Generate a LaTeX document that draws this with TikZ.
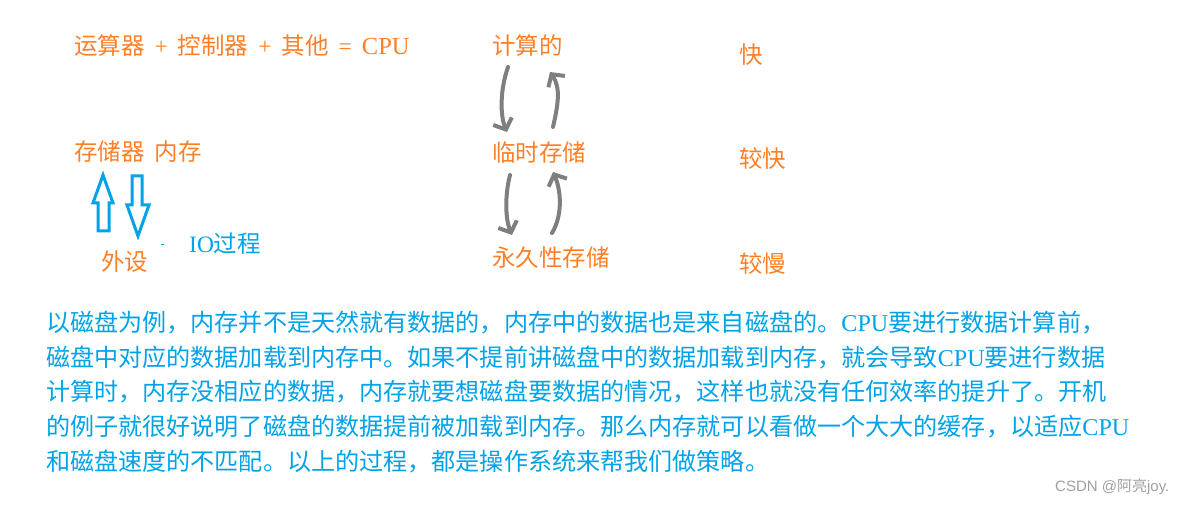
\documentclass[tikz,border=0pt]{standalone}
\usepackage{fontspec}
\setmainfont{Noto Sans CJK SC}
\newfontfamily\lat{Liberation Serif}
\newfontfamily\wmlat{Liberation Sans}
\usetikzlibrary{arrows.meta,calc}
\definecolor{myorange}{RGB}{255,127,39}
\definecolor{myblue}{RGB}{0,162,232}
\definecolor{mygray}{RGB}{127,127,127}
\definecolor{wmgray}{RGB}{160,160,160}
\newcommand{\opsym}[1]{\hspace{10pt}{\lat #1}\hspace{10pt}}
\tikzset{
  lab/.style={anchor=west,inner sep=0pt,text=myorange,font=\fontsize{23.5}{28}\selectfont},
  bodyline/.style={anchor=west,inner sep=0pt,text=myblue,font=\fontsize{24.1}{30}\selectfont},
  grayarrow/.style={draw=mygray,line width=4pt,line cap=round,
    -{Straight Barb[length=9pt,width=20pt,line width=4pt]}},
  bluearrow/.style={draw=myblue,line width=3pt,line join=miter},
}
\begin{document}
\begin{tikzpicture}[x=1pt,y=-1pt]
\useasboundingbox (0,0) rectangle (1187,505);
% left column
\node[lab] (cpu) at (74,46) {运算器\opsym{+}控制器\opsym{+}其他\opsym{=}{\lat\fontsize{24.5}{28}\selectfont CPU}};
\node[lab] (mem) at (74,152) {存储器\hspace{10pt}内存};
\node[lab] (dev) at (101,262) {外设};
\node[lab,text=myblue] (io) at (189,244) {{\lat IO}过程};
% hollow block arrows
\draw[bluearrow] (98,231) -- (98,203) -- (93,203) -- (103,175) -- (113,203) -- (109,203) -- (109,231) -- cycle;
\draw[bluearrow] (132,176) -- (142,176) -- (142,205) -- (149,205) -- (138,236) -- (127,205) -- (132,205) -- cycle;
\draw[myblue,line width=1pt] (161,245) -- (164,245);
% middle column
\node[lab] (calc) at (492,46) {计算的};
\node[lab] (tmp) at (492,153) {临时存储};
\node[lab] (perm) at (492,258) {永久性存储};
\draw[grayarrow] ($(calc.west)+(16,21)$) .. controls (500,90) and (500,115) .. ($(tmp.west)+(15,-21)$);
\draw[grayarrow] ($(tmp.west)+(61,-26)$) .. controls (558,105) and (561,88) .. ($(calc.west)+(58,26)$);
\draw[grayarrow] ($(tmp.west)+(18,22)$) .. controls (505,195) and (505,218) .. ($(perm.west)+(20,-23)$);
\draw[grayarrow] ($(perm.west)+(60,-25)$) .. controls (563,215) and (561,190) .. ($(tmp.west)+(61,19)$);
% right column
\node[lab] (fast) at (739,55) {快};
\node[lab] (fast2) at (739,159) {较快};
\node[lab] (slow) at (739,264) {较慢};
% body text
\node[bodyline] (l1) at (46,323) {以磁盘为例，内存并不是天然就有数据的，内存中的数据也是来自磁盘的。{\lat CPU}要进行数据计算前，};
\node[bodyline] (l2) at (46,358) {磁盘中对应的数据加载到内存中。如果不提前讲磁盘中的数据加载到内存，就会导致{\lat CPU}要进行数据};
\node[bodyline] (l3) at (46,392) {计算时，内存没相应的数据，内存就要想磁盘要数据的情况，这样也就没有任何效率的提升了。开机};
\node[bodyline] (l4) at (46,427) {的例子就很好说明了磁盘的数据提前被加载到内存。那么内存就可以看做一个大大的缓存，以适应{\lat CPU}};
\node[bodyline] (l5) at (46,462) {和磁盘速度的不匹配。以上的过程，都是操作系统来帮我们做策略。};
% watermark
\node[anchor=west,inner sep=0pt,text=wmgray,font=\fontsize{15}{18}\selectfont] (wm) at (1055,487) {{\wmlat CSDN @}阿亮{\wmlat joy.}};
\end{tikzpicture}
\end{document}
